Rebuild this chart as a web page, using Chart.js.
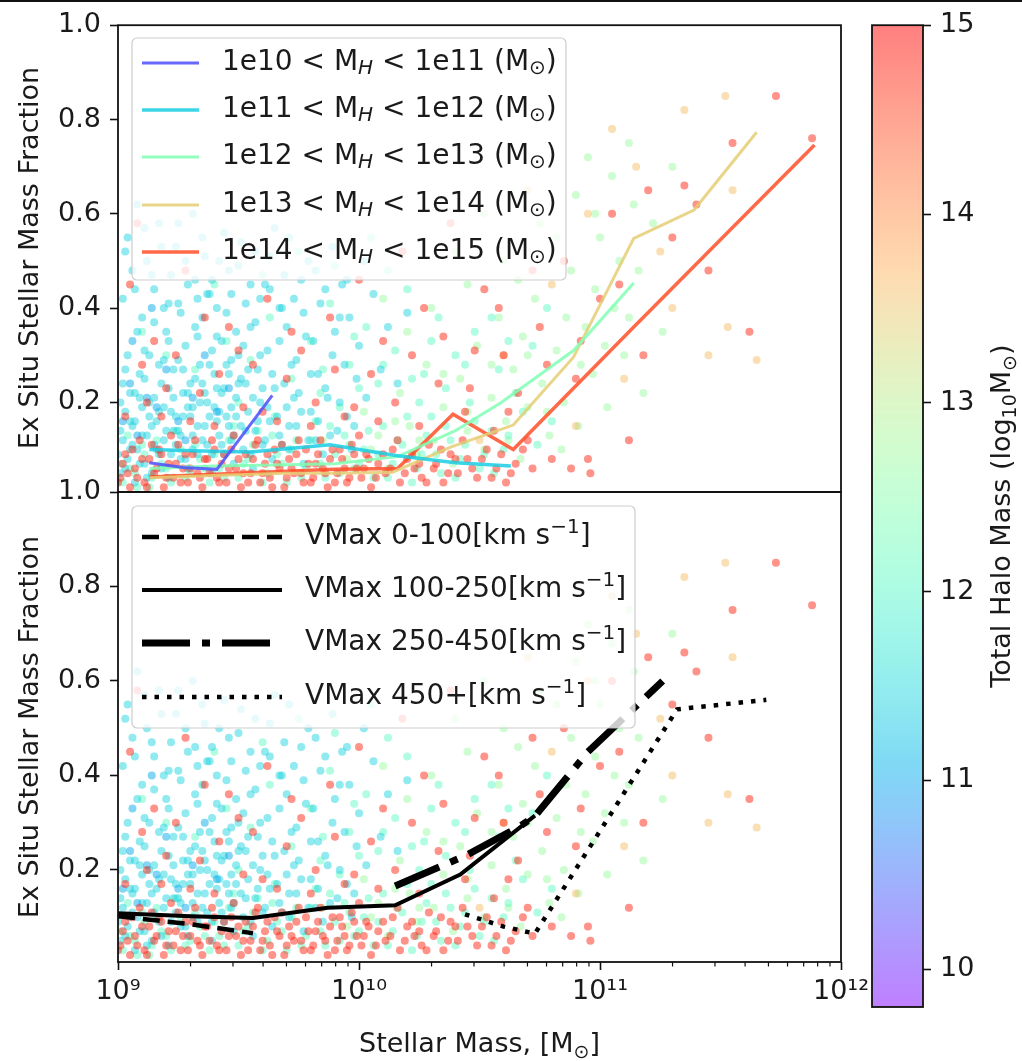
<!DOCTYPE html>
<html>
<head>
<meta charset="utf-8">
<script src="https://cdn.jsdelivr.net/npm/chart.js@4.4.1/dist/chart.umd.min.js"></script>
<style>
  html, body { margin: 0; padding: 0; background: #fff; width: 1022px; height: 1061px; overflow: hidden; }
  #topline { position: absolute; left: 0; top: 0; width: 1022px; height: 2px; background: #111; }
  canvas { position: absolute; }
</style>
</head>
<body>
<div id="topline"></div>
<canvas id="cTop" width="900" height="522" style="left:0;top:0"></canvas>
<canvas id="cBot" width="900" height="599" style="left:0;top:462px"></canvas>
<canvas id="cBar" width="172" height="1061" style="left:850px;top:0"></canvas>
<script>
// ---- data (x values are log10 of stellar mass) ----
const cbMin = 9.8, cbMax = 15;
const cbTicks = [10, 11, 12, 13, 14, 15];
const yTicks = [0.2, 0.4, 0.6, 0.8, 1.0];
const xMajor = [1e9, 1e10, 1e11, 1e12];
const xTickLabels = ['10\u2079', '10\u00b9\u2070', '10\u00b9\u00b9', '10\u00b9\u00b2'];
const xMinorDigits = [2, 3, 4, 5, 6, 7, 8, 9];

// halo mass bins (top panel)
const binNames = [['1e10', '1e11'], ['1e11', '1e12'], ['1e12', '1e13'], ['1e13', '1e14'], ['1e14', '1e15']];
const binT = [0.1, 0.3, 0.5, 0.7, 0.9];
const binX = [
  [9.13, 9.27, 9.41, 9.64],
  [9.13, 9.35, 9.55, 9.88, 10.16, 10.4, 10.63],
  [9.13, 9.4, 9.7, 9.9, 10.16, 10.4, 10.59, 10.89, 11.14],
  [9.13, 9.4, 9.7, 9.9, 10.14, 10.38, 10.64, 10.89, 11.14, 11.39, 11.65],
  [9.13, 9.5, 9.9, 10.16, 10.39, 10.64, 11.14, 11.89]
];
const binY = [
  [0.072, 0.062, 0.058, 0.215],
  [0.10, 0.097, 0.095, 0.11, 0.087, 0.072, 0.065],
  [0.06, 0.065, 0.068, 0.07, 0.085, 0.14, 0.2, 0.31, 0.453],
  [0.04, 0.045, 0.05, 0.05, 0.052, 0.105, 0.152, 0.296, 0.548, 0.608, 0.773],
  [0.042, 0.05, 0.058, 0.06, 0.175, 0.1, 0.36, 0.746]
];
const binWidth = [3, 3.5, 3, 3, 3.5];

// VMax bins (bottom panel)
const vmaxNames = ['0-100', '100-250', '250-450', '450+'];
const vmaxX = [
  [9.0, 9.3, 9.56],
  [9.0, 9.3, 9.56, 9.87, 10.15, 10.42, 10.73],
  [10.15, 10.45, 10.67, 10.73, 10.95, 11.26],
  [10.44, 10.6, 10.73, 11.32, 11.69]
];
const vmaxY = [
  [0.102, 0.085, 0.066],
  [0.108, 0.102, 0.098, 0.12, 0.125, 0.19, 0.315],
  [0.166, 0.232, 0.293, 0.314, 0.45, 0.6],
  [0.106, 0.08, 0.065, 0.54, 0.56]
];
const vmaxWidth = [4.5, 4, 7, 4.5];
const vmaxDash = [[17, 8], [], [48, 12, 8, 12], [4.5, 8]];

// galaxies: pairs of (log10 stellar mass, ex situ fraction), grouped by halo mass
const haloMass = { blue: 11.0, cyan: 11.45, teal: 12.1, green: 12.7, tan: 13.6, red: 14.75 };
const bluePts = [9.02,.16, 9.05,.24, 9.08,.13, 9.12,.21, 9.16,.19, 9.20,.27, 9.25,.16, 9.31,.21, 9.36,.30, 9.41,.18,
  9.46,.23, 9.06,.33, 9.14,.40, 9.28,.12];
const cyanPts = [9.01,.05, 9.02,.12, 9.03,.18, 9.04,.08, 9.05,.22, 9.06,.15, 9.07,.03, 9.08,.10, 9.09,.26, 9.10,.19,
  9.11,.07, 9.12,.13, 9.13,.30, 9.14,.05, 9.15,.21, 9.16,.16, 9.17,.09, 9.18,.24, 9.19,.12, 9.20,.35,
  9.21,.04, 9.22,.18, 9.23,.27, 9.24,.11, 9.25,.14, 9.26,.08, 9.27,.22, 9.28,.32, 9.29,.06, 9.30,.17,
  9.31,.13, 9.32,.25, 9.33,.09, 9.34,.20, 9.35,.38, 9.36,.15, 9.37,.11, 9.38,.28, 9.39,.05, 9.40,.19,
  9.41,.23, 9.42,.13, 9.43,.33, 9.44,.09, 9.45,.17, 9.46,.26, 9.47,.12, 9.48,.07, 9.49,.21, 9.50,.30,
  9.51,.15, 9.52,.10, 9.53,.24, 9.54,.18, 9.55,.36, 9.56,.06, 9.57,.14, 9.58,.27, 9.59,.20, 9.60,.11,
  9.62,.31, 9.63,.16, 9.64,.08, 9.65,.23, 9.67,.13, 9.68,.40, 9.70,.19, 9.71,.10, 9.72,.28, 9.74,.15,
  9.75,.22, 9.77,.07, 9.78,.34, 9.80,.18, 9.82,.12, 9.83,.26, 9.85,.09, 9.87,.21, 9.89,.30, 9.91,.14,
  9.93,.45, 9.95,.17, 9.97,.10, 9.99,.25,
  9.02,.42, 9.04,.55, 9.06,.48, 9.08,.62, 9.10,.38, 9.12,.50, 9.15,.44, 9.17,.58, 9.19,.40, 9.22,.47,
  9.24,.53, 9.26,.39, 9.29,.45, 9.31,.60, 9.33,.42, 9.36,.51, 9.39,.46, 9.41,.40, 9.44,.56, 9.47,.43,
  9.50,.49, 9.53,.41, 9.57,.52, 9.61,.45, 9.65,.57, 9.69,.47, 9.73,.42, 9.79,.50, 9.86,.44, 9.92,.38,
  9.01,.20, 9.03,.27, 9.05,.10, 9.07,.16, 9.09,.21, 9.11,.31, 9.13,.17, 9.15,.11, 9.17,.28, 9.19,.19,
  9.21,.23, 9.23,.14, 9.25,.29, 9.27,.17, 9.29,.22, 9.31,.19, 9.33,.34, 9.35,.24, 9.37,.20, 9.39,.31,
  9.41,.16, 9.43,.22, 9.45,.28, 9.47,.19, 9.49,.35, 9.51,.25,
  9.00,.09, 9.01,.14, 9.02,.24, 9.03,.06, 9.04,.30, 9.05,.16, 9.06,.11, 9.07,.22, 9.08,.35, 9.09,.07,
  9.10,.13, 9.11,.25, 9.12,.04, 9.13,.20, 9.14,.15, 9.15,.37, 9.16,.10, 9.17,.18, 9.18,.06, 9.19,.29,
  9.20,.14, 9.21,.33, 9.22,.09, 9.23,.21, 9.24,.17, 9.25,.41, 9.26,.13, 9.27,.27, 9.28,.08, 9.29,.19,
  9.30,.24, 9.31,.10, 9.32,.36, 9.33,.15, 9.34,.28, 9.35,.12, 9.36,.22, 9.37,.43, 9.38,.17, 9.39,.09,
  9.40,.26, 9.41,.34, 9.42,.18, 9.43,.11, 9.44,.23, 9.45,.39, 9.46,.15, 9.47,.29, 9.48,.13, 9.49,.17,
  9.50,.24, 9.52,.32, 9.53,.14, 9.54,.27, 9.55,.09, 9.56,.21, 9.57,.37, 9.58,.16, 9.59,.30, 9.60,.23,
  9.61,.12, 9.62,.19, 9.63,.44, 9.64,.26, 9.66,.17, 9.67,.33, 9.68,.11, 9.69,.24, 9.70,.36, 9.71,.15,
  9.73,.21, 9.74,.29, 9.76,.18, 9.77,.39, 9.79,.12, 9.80,.26, 9.81,.33, 9.83,.16, 9.84,.41, 9.86,.23,
  9.88,.13, 9.90,.35, 9.92,.20, 9.94,.28, 9.96,.38, 9.98,.15, 10.00,.32, 10.03,.21, 10.06,.43, 10.09,.27,
  10.12,.36, 10.16,.24, 10.20,.39,
  9.03,.52, 9.07,.44, 9.11,.57, 9.14,.47, 9.18,.53, 9.21,.41, 9.25,.58, 9.28,.50, 9.32,.46, 9.35,.55,
  9.38,.43, 9.42,.50, 9.46,.48, 9.51,.54, 9.55,.45, 9.59,.42, 9.63,.51, 9.67,.40, 9.71,.55, 9.76,.46,
  9.82,.48, 9.89,.53, 9.95,.46, 10.02,.50];
const tealPts = [9.02,.03, 9.05,.06, 9.08,.02, 9.11,.09, 9.14,.04, 9.18,.07, 9.22,.03, 9.26,.10, 9.30,.05, 9.34,.08,
  9.38,.03, 9.42,.06, 9.46,.12, 9.50,.04, 9.54,.08, 9.58,.14, 9.62,.05, 9.66,.09, 9.70,.03, 9.74,.12,
  9.78,.06, 9.82,.16, 9.86,.04, 9.90,.09, 9.94,.13, 9.98,.06, 10.02,.10, 10.06,.04, 10.10,.15, 10.14,.07,
  10.18,.11, 10.22,.03, 10.26,.09, 10.30,.17, 10.34,.05, 10.38,.12, 10.42,.08, 10.46,.20, 10.50,.06, 10.55,.14,
  10.60,.10, 9.10,.35, 9.20,.30, 9.32,.27, 9.45,.33, 9.55,.29, 9.63,.38, 9.72,.25, 9.80,.33, 9.88,.41,
  9.96,.28, 10.03,.36, 10.08,.24, 10.15,.31, 10.20,.44, 10.27,.26, 10.33,.38, 10.40,.30, 10.48,.35, 10.58,.27,
  10.65,.22, 10.72,.32, 9.60,.47, 9.75,.52, 9.90,.49, 10.05,.55, 10.12,.48, 9.40,.45, 9.84,.22, 9.92,.19,
  10.00,.23, 10.25,.20, 10.36,.23,
  9.01,.07, 9.04,.13, 9.07,.05, 9.10,.11, 9.13,.02, 9.16,.12, 9.20,.06, 9.24,.14, 9.28,.04, 9.32,.11,
  9.36,.06, 9.40,.09, 9.44,.04, 9.48,.15, 9.52,.07, 9.56,.11, 9.60,.03, 9.64,.13, 9.68,.07, 9.72,.10,
  9.76,.04, 9.80,.12, 9.84,.07, 9.88,.15, 9.92,.05, 9.96,.11, 10.00,.07, 10.04,.14, 10.08,.09, 10.12,.04,
  10.16,.12, 10.20,.17, 10.24,.06, 10.28,.13, 10.32,.09, 10.36,.15, 10.40,.04, 10.44,.11, 10.48,.16, 10.52,.09,
  10.56,.05, 10.62,.13, 10.68,.18, 10.74,.11, 10.80,.16, 9.50,.20, 9.65,.17, 9.85,.27, 9.98,.34, 10.10,.28,
  10.22,.25, 10.30,.33, 10.44,.28, 10.55,.38, 10.62,.33, 10.78,.40];
const greenPts = [9.85,.12, 9.95,.08, 10.02,.18, 10.08,.13, 10.12,.06, 10.17,.22, 10.21,.15, 10.24,.09, 10.28,.28, 10.31,.12,
  10.35,.19, 10.39,.07, 10.42,.25, 10.45,.14, 10.49,.32, 10.52,.10, 10.55,.21, 10.58,.38, 10.61,.16, 10.64,.27,
  10.67,.08, 10.70,.19, 10.73,.42, 10.76,.24, 10.79,.13, 10.82,.31, 10.85,.20, 10.88,.48, 10.91,.15, 10.94,.36,
  10.97,.26, 11.00,.55, 11.03,.19, 11.06,.40, 11.10,.30, 11.14,.62, 11.18,.22, 10.30,.40, 10.45,.45, 10.60,.50,
  10.75,.58, 10.90,.64, 11.05,.68, 10.20,.35, 10.10,.42, 10.40,.52, 10.68,.34, 10.84,.10, 10.66,.46, 10.95,.72,
  10.52,.60,
  10.05,.10, 10.15,.16, 10.25,.12, 10.35,.26, 10.45,.18, 10.55,.28, 10.62,.12, 10.70,.30, 10.78,.18, 10.86,.38,
  10.92,.28, 10.98,.44, 11.02,.32, 11.08,.50, 11.12,.38, 11.16,.48, 11.22,.58, 11.26,.35, 10.82,.55, 10.98,.60,
  11.12,.75, 11.30,.70];
const tanPts = [10.6,.30, 10.8,.45, 10.95,.60, 11.05,.78, 11.15,.70, 11.25,.52, 11.35,.82, 11.52,.85, 11.55,.65, 11.65,.29,
  11.53,.36, 11.1,.25, 10.9,.15, 11.3,.40, 10.5,.12, 10.7,.65, 11.45,.30];
const redPts = [9.01,.04, 9.03,.09, 9.05,.02, 9.07,.06, 9.09,.12, 9.11,.03, 9.13,.08, 9.15,.05, 9.17,.10, 9.19,.02,
  9.21,.07, 9.23,.04, 9.25,.11, 9.27,.06, 9.29,.03, 9.31,.09, 9.33,.05, 9.35,.02, 9.37,.08, 9.39,.12,
  9.41,.04, 9.43,.07, 9.45,.03, 9.47,.10, 9.49,.06, 9.51,.02, 9.53,.09, 9.55,.05, 9.57,.11, 9.59,.03,
  9.61,.07, 9.63,.04, 9.65,.10, 9.67,.06, 9.69,.02, 9.71,.08, 9.73,.05, 9.75,.12, 9.77,.03, 9.79,.07,
  9.81,.04, 9.83,.09, 9.85,.06, 9.87,.02, 9.89,.10, 9.91,.05, 9.93,.08, 9.95,.03, 9.97,.11, 9.99,.06,
  10.01,.04, 10.03,.09, 10.05,.02, 10.08,.07, 10.11,.05, 10.14,.10, 10.17,.03, 10.20,.08, 10.23,.06, 10.26,.04,
  10.29,.11, 10.32,.07, 10.35,.03, 10.38,.09, 10.41,.05, 10.45,.08, 10.49,.04, 10.53,.10, 10.57,.06, 10.61,.03,
  10.65,.07, 10.88,.06, 10.96,.05,
  9.05,.45, 9.08,.58, 9.12,.20, 9.18,.17, 9.24,.30, 9.28,.48, 9.34,.22, 9.40,.15, 9.46,.36, 9.52,.19,
  9.56,.28, 9.62,.42, 9.66,.16, 9.70,.25, 9.76,.31, 9.82,.20, 9.88,.38, 9.94,.17, 10.00,.46, 10.05,.26,
  10.10,.33, 10.15,.20, 10.18,.52, 10.22,.30, 10.27,.40, 10.33,.24, 10.38,.58, 10.44,.18, 10.48,.31, 10.52,.44,
  10.56,.14, 10.60,.30, 10.66,.22, 10.70,.12, 10.75,.36, 10.80,.08, 10.85,.50, 10.90,.25, 10.95,.08, 11.00,.42,
  11.05,.60, 11.12,.12, 11.20,.65, 11.30,.55, 11.40,.62, 11.55,.75, 11.62,.35, 11.73,.85, 11.88,.76, 9.15,.33,
  9.36,.38,
  9.00,.03, 9.02,.07, 9.04,.05, 9.06,.10, 9.08,.04, 9.10,.08, 9.12,.02, 9.14,.11, 9.16,.06, 9.18,.09,
  9.20,.04, 9.22,.13, 9.24,.07, 9.26,.03, 9.28,.09, 9.30,.06, 9.32,.12, 9.34,.04, 9.36,.08, 9.38,.05,
  9.40,.10, 9.42,.03, 9.44,.09, 9.46,.06, 9.48,.13, 9.50,.08, 9.52,.05, 9.54,.03, 9.56,.08, 9.58,.12,
  9.60,.05, 9.62,.09, 9.64,.02, 9.66,.07, 9.68,.11, 9.70,.04, 9.72,.06, 9.74,.09, 9.76,.05, 9.78,.10,
  9.80,.03, 9.82,.07, 9.84,.12, 9.86,.05, 9.88,.08, 9.90,.03, 9.92,.10, 9.94,.06, 9.96,.04, 9.98,.09,
  10.00,.13, 10.02,.06, 10.04,.08, 10.07,.04, 10.10,.09, 10.13,.06, 10.16,.12, 10.19,.05, 10.22,.09, 10.25,.07,
  10.28,.03, 10.31,.06, 10.34,.10, 10.37,.05, 10.40,.08, 10.43,.12, 10.47,.06, 10.51,.08, 10.55,.04, 10.59,.09,
  10.63,.05, 10.68,.10, 10.72,.06,
  9.03,.17, 9.10,.28, 9.20,.23, 9.30,.16, 9.42,.26, 9.50,.31, 9.60,.18, 9.72,.35, 9.80,.15, 9.90,.27,
  9.98,.19, 10.08,.16, 10.25,.15, 10.35,.34, 10.46,.23, 10.58,.40, 10.62,.18, 10.72,.48, 10.78,.28, 10.92,.33,
  11.08,.45, 11.18,.30, 11.35,.66, 11.45,.48];
const groups = [
  [redPts, haloMass.red], [tanPts, haloMass.tan], [bluePts, haloMass.blue],
  [cyanPts, haloMass.cyan], [tealPts, haloMass.teal], [greenPts, haloMass.green]
];

// ---- helpers ----
const FONT = '"DejaVu Sans", "Noto Sans", sans-serif';
Chart.defaults.font.family = FONT;
Chart.defaults.color = '#1a1a1a';

function rainbowT(t, a) {
  t = Math.min(1, Math.max(0, t));
  const r = Math.min(1, Math.abs(2 * t - 0.5)), g = Math.sin(Math.PI * t), b = Math.cos(Math.PI * t / 2);
  return 'rgba(' + Math.round(r * 255) + ',' + Math.round(g * 255) + ',' + Math.round(b * 255) + ',' + a + ')';
}
function rainbow(m, a) { return rainbowT((m - cbMin) / (cbMax - cbMin), a); }

function toXY(xs, ys) { return xs.map((v, i) => ({ x: Math.pow(10, v), y: ys[i] })); }
function pairsXY(p) {
  const out = [];
  for (let i = 0; i < p.length; i += 2) out.push({ x: Math.pow(10, p[i]), y: p[i + 1] });
  return out;
}
function scatterSets() {
  return groups.map((g, k) => ({
    type: 'scatter', data: pairsXY(g[0]), order: k + 1,
    pointRadius: 4, pointBorderWidth: 0, pointBackgroundColor: rainbow(g[1], 0.5), clip: 0
  }));
}

// runs: [text, scale, dy(em), italic]
function runsWidth(ctx, runs, size) {
  let w = 0;
  for (const r of runs) { ctx.font = (r[3] ? 'italic ' : '') + Math.round(size * r[1]) + 'px ' + FONT; w += ctx.measureText(r[0]).width; }
  return w;
}
function drawRuns(ctx, runs, x, y, size) {
  let cx = x;
  for (const r of runs) {
    ctx.font = (r[3] ? 'italic ' : '') + Math.round(size * r[1]) + 'px ' + FONT;
    ctx.fillText(r[0], cx, y + r[2] * size);
    cx += ctx.measureText(r[0]).width;
  }
}
function drawRotated(ctx, runs, cx, cy, size) {
  ctx.save();
  ctx.translate(cx, cy);
  ctx.rotate(-Math.PI / 2);
  ctx.fillStyle = '#1a1a1a';
  ctx.textBaseline = 'alphabetic';
  ctx.textAlign = 'left';
  drawRuns(ctx, runs, -runsWidth(ctx, runs, size) / 2, 0, size);
  ctx.restore();
}
function legendBox(ctx, x0, y0, x1, y1) {
  ctx.save();
  ctx.beginPath();
  ctx.roundRect(x0, y0, x1 - x0, y1 - y0, 5);
  ctx.fillStyle = 'rgba(255,255,255,0.8)';
  ctx.fill();
  ctx.strokeStyle = 'rgba(200,200,200,0.9)';
  ctx.lineWidth = 1.2;
  ctx.stroke();
  ctx.restore();
}
function frame(chart) {
  const a = chart.chartArea, ctx = chart.ctx;
  ctx.save();
  ctx.strokeStyle = '#111';
  ctx.lineWidth = 1.8;
  ctx.strokeRect(a.left, a.top, a.right - a.left, a.bottom - a.top);
  ctx.restore();
}
const yTitle = [['Ex Situ Stellar Mass Fraction', 1, 0, false]];
const TXT = 27, LEG = 28;
const BOT = 462; // top of bottom canvas on the page

function yAxis(min) {
  return {
    type: 'linear', min: min, max: 1.0,
    afterBuildTicks: s => { s.ticks = yTicks.map(v => ({ value: v })); },
    afterFit: s => { s.width = 118; },
    ticks: { font: { size: TXT }, color: '#1a1a1a', padding: 9, callback: v => v.toFixed(1) },
    grid: { display: true, drawOnChartArea: false, drawTicks: true, tickLength: 8, tickWidth: 1.6, color: '#111' },
    border: { display: false }
  };
}

// ---- top panel ----
const topLines = binX.map((xs, i) => ({
  type: 'line', data: toXY(xs, binY[i]), order: 0, borderColor: rainbowT(binT[i], 0.85),
  borderWidth: binWidth[i], pointRadius: 0, fill: false, tension: 0, clip: 0
}));

new Chart(document.getElementById('cTop'), {
  type: 'scatter',
  data: { datasets: topLines.concat(scatterSets()) },
  options: {
    responsive: false, animation: false, devicePixelRatio: 1, events: [],
    layout: { padding: { top: 25, right: 59, bottom: 30, left: 0 } },
    plugins: { legend: { display: false }, tooltip: { enabled: false } },
    scales: {
      x: { type: 'logarithmic', min: 1e9, max: 1e12, display: false },
      y: yAxis(0.01)
    }
  },
  plugins: [{
    id: 'topDeco',
    afterDatasetsDraw(chart) {
      const ctx = chart.ctx;
      frame(chart);
      legendBox(ctx, 132, 38, 566, 280);
      const rows = [63, 110, 157, 205, 252];
      binNames.forEach((b, i) => {
        ctx.save();
        ctx.strokeStyle = rainbowT(binT[i], 0.85);
        ctx.lineWidth = binWidth[i];
        ctx.beginPath(); ctx.moveTo(142, rows[i]); ctx.lineTo(199, rows[i]); ctx.stroke();
        ctx.fillStyle = '#1a1a1a';
        ctx.textBaseline = 'middle';
        drawRuns(ctx, [[b[0] + ' < M', 1, 0, false], ['H', 0.7, 0.22, true], [' < ' + b[1] + ' (M', 1, 0, false],
          ['\u2299', 0.7, 0.22, false], [')', 1, 0, false]], 222, rows[i], LEG);
        ctx.restore();
      });
      drawRotated(ctx, yTitle, 38, 258, TXT);
    }
  }]
});

// ---- bottom panel ----
const botLines = vmaxX.map((xs, i) => ({
  type: 'line', data: toXY(xs, vmaxY[i]), order: 0, borderColor: '#000',
  borderWidth: vmaxWidth[i], borderDash: vmaxDash[i], borderCapStyle: 'butt',
  pointRadius: 0, fill: false, tension: 0, clip: 0
}));

new Chart(document.getElementById('cBot'), {
  type: 'scatter',
  data: { datasets: botLines.concat(scatterSets()) },
  options: {
    responsive: false, animation: false, devicePixelRatio: 1, events: [],
    layout: { padding: { top: 30, right: 59, bottom: 0, left: 0 } },
    plugins: { legend: { display: false }, tooltip: { enabled: false } },
    scales: {
      x: {
        type: 'logarithmic', min: 1e9, max: 1e12,
        afterBuildTicks: s => { s.ticks = xMajor.map(v => ({ value: v, major: true })); },
        afterFit: s => { s.height = 99; },
        ticks: {
          font: { size: TXT }, color: '#1a1a1a', padding: 6, autoSkip: false, maxRotation: 0,
          callback: (v, i) => xTickLabels[i]
        },
        grid: { display: true, drawOnChartArea: false, drawTicks: true, tickLength: 8, tickWidth: 1.6, color: '#111' },
        border: { display: false }
      },
      y: yAxis(0.005)
    }
  },
  plugins: [{
    id: 'botDeco',
    afterDatasetsDraw(chart) {
      const ctx = chart.ctx, a = chart.chartArea, xs = chart.scales.x;
      frame(chart);
      // minor ticks
      ctx.save();
      ctx.strokeStyle = '#111'; ctx.lineWidth = 1.2;
      xMajor.slice(0, 3).forEach(m => xMinorDigits.forEach(d => {
        const px = xs.getPixelForValue(m * d);
        ctx.beginPath(); ctx.moveTo(px, a.bottom); ctx.lineTo(px, a.bottom + 4.5); ctx.stroke();
      }));
      ctx.restore();
      legendBox(ctx, 132, 506 - BOT, 635, 728 - BOT);
      const rows = [537, 590, 643, 697].map(v => v - BOT);
      vmaxNames.forEach((n, i) => {
        ctx.save();
        ctx.strokeStyle = '#000';
        ctx.lineWidth = vmaxWidth[i];
        ctx.setLineDash(vmaxDash[i]);
        ctx.lineCap = 'butt';
        ctx.beginPath(); ctx.moveTo(142, rows[i]); ctx.lineTo(282, rows[i]); ctx.stroke();
        ctx.setLineDash([]);
        ctx.fillStyle = '#1a1a1a';
        ctx.textBaseline = 'middle';
        drawRuns(ctx, [['VMax ' + n + '[km s', 1, 0, false], ['\u22121', 0.7, -0.33, false], [']', 1, 0, false]], 305, rows[i], LEG);
        ctx.restore();
      });
      drawRotated(ctx, yTitle, 38, 727 - BOT, TXT);
      // x title
      const xt = [['Stellar Mass, [M', 1, 0, false], ['\u2299', 0.7, 0.22, false], [']', 1, 0, false]];
      ctx.save();
      ctx.fillStyle = '#1a1a1a'; ctx.textBaseline = 'alphabetic';
      drawRuns(ctx, xt, (a.left + a.right) / 2 - runsWidth(ctx, xt, TXT) / 2, 1052 - BOT, TXT);
      ctx.restore();
    }
  }]
});

// ---- colorbar ----
new Chart(document.getElementById('cBar'), {
  type: 'scatter',
  data: { datasets: [{ data: [] }] },
  options: {
    responsive: false, animation: false, devicePixelRatio: 1, events: [],
    layout: { padding: { top: 25, right: 0, bottom: 54, left: 22 } },
    plugins: { legend: { display: false }, tooltip: { enabled: false } },
    scales: {
      x: { display: false, min: 0, max: 1 },
      y: {
        position: 'right', min: cbMin, max: cbMax,
        afterBuildTicks: s => { s.ticks = cbTicks.map(v => ({ value: v })); },
        afterFit: s => { s.width = 99; },
        ticks: { font: { size: TXT }, color: '#1a1a1a', padding: 9, callback: v => String(v) },
        grid: { display: true, drawOnChartArea: false, drawTicks: true, tickLength: 8, tickWidth: 1.6, color: '#111' },
        border: { display: false }
      }
    }
  },
  plugins: [{
    id: 'cbar',
    beforeDatasetsDraw(chart) {
      const ctx = chart.ctx, a = chart.chartArea, ys = chart.scales.y;
      for (let py = Math.floor(a.top); py < a.bottom; py++) {
        ctx.fillStyle = rainbow(ys.getValueForPixel(py + 0.5), 0.5);
        ctx.fillRect(a.left, py, a.right - a.left, 1);
      }
      frame(chart);
      drawRotated(ctx, [['Total Halo Mass (log', 1, 0, false], ['10', 0.7, 0.22, false], ['M', 1, 0, false],
        ['\u2299', 0.7, 0.22, false], [')', 1, 0, false]], 160, (a.top + a.bottom) / 2, TXT);
    }
  }]
});
</script>
</body>
</html>
